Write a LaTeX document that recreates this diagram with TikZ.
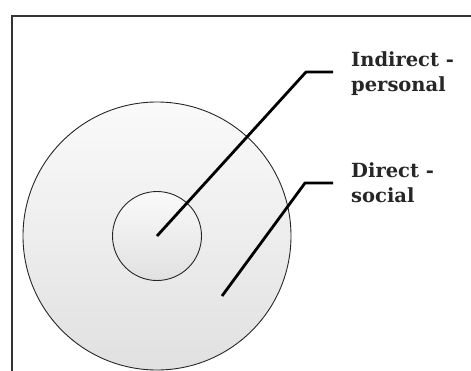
\documentclass[tikz,border=0pt]{standalone}
\usepackage{fontspec}
\setmainfont{DejaVu Serif}
\begin{document}
\begin{tikzpicture}[x=1pt,y=-1pt,
  ring/.style={draw=black!85,line width=0.9pt,top color=gray!4,bottom color=gray!24},
  lead/.style={draw=black,line width=2.8pt,line join=round},
  lbl/.style={anchor=north west,align=left,inner sep=0pt,font=\bfseries\fontsize{19.5}{25}\selectfont,text=black!85}]
\useasboundingbox (0,0) rectangle (471,370);
\fill[white] (0,0) rectangle (471,370);
\draw[black!80,line width=1.8pt] (12,372) -- (12,16) -- (473,16);
\node[ring,circle,minimum size=268pt,inner sep=0pt] (outer) at (157,236) {};
\node[ring,circle,minimum size=89pt,inner sep=0pt] (inner) at (157,236) {};
\coordinate (p1) at (157,236);
\coordinate (b1) at (306,72);
\coordinate (e1) at (333,72);
\coordinate (p2) at (222,296);
\coordinate (b2) at (305,183);
\coordinate (e2) at (333,183);
\node[lbl] (t1) at (351,51) {Indirect -\\personal};
\node[lbl] (t2) at (351,162) {Direct -\\social};
\draw[lead] (p1) -- (b1) -- (e1);
\draw[lead] (p2) -- (b2) -- (e2);
\end{tikzpicture}
\end{document}
